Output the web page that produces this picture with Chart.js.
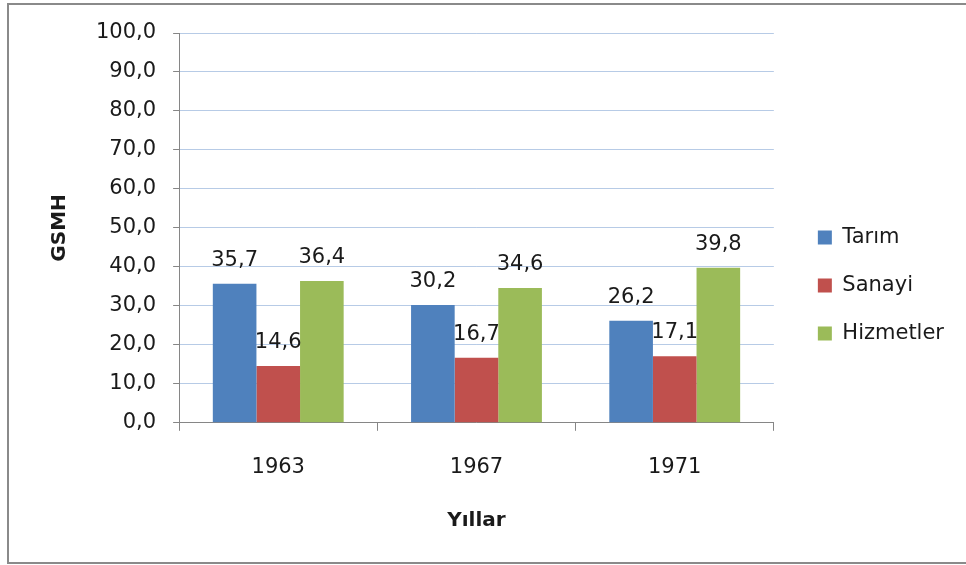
<!DOCTYPE html>
<html>
<head>
<meta charset="utf-8">
<script src="https://cdn.jsdelivr.net/npm/chart.js@4/dist/chart.umd.min.js"></script>
<style>
  html, body { margin: 0; padding: 0; background: #fff; overflow: hidden; }
  #wrap { position: relative; width: 966px; height: 565px; }
  #frame { position: absolute; left: 7px; top: 3px; width: 980px; height: 561px;
           border: 2px solid #8a8a8a; border-right: none; box-sizing: border-box; }
  canvas { position: absolute; left: 0; top: 0; }
</style>
</head>
<body>
<div id="wrap">
  <div id="frame"></div>
  <canvas id="c" width="966" height="565"></canvas>
</div>
<script>
const categories = ['1963', '1967', '1971'];
const seriesNames = ['Tarım', 'Sanayi', 'Hizmetler'];
const tarim = [35.7, 30.2, 26.2];
const sanayi = [14.6, 16.7, 17.1];
const hizmetler = [36.4, 34.6, 39.8];
const yTitle = 'GSMH';
const xTitle = 'Yıllar';

const colors = ['#4f81bd', '#c0504d', '#9bbb59'];
const FONT = "'DejaVu Sans', sans-serif";
const fmt = v => v.toFixed(1).replace('.', ',');

const labelPlugin = {
  id: 'barLabels',
  afterDatasetsDraw(chart) {
    const ctx = chart.ctx;
    ctx.save();
    ctx.font = '21px ' + FONT;
    ctx.fillStyle = '#1a1a1a';
    ctx.textAlign = 'center';
    ctx.textBaseline = 'alphabetic';
    chart.data.datasets.forEach((ds, i) => {
      const meta = chart.getDatasetMeta(i);
      meta.data.forEach((bar, j) => {
        ctx.fillText(fmt(ds.data[j]), bar.x, bar.y - 18);
      });
    });
    ctx.restore();
  }
};

new Chart(document.getElementById('c'), {
  type: 'bar',
  data: {
    labels: categories,
    datasets: [
      { label: seriesNames[0], data: tarim, backgroundColor: colors[0] },
      { label: seriesNames[1], data: sanayi, backgroundColor: colors[1] },
      { label: seriesNames[2], data: hizmetler, backgroundColor: colors[2] }
    ]
  },
  options: {
    responsive: false,
    animation: false,
    devicePixelRatio: 1,
    datasets: { bar: { barPercentage: 1.0, categoryPercentage: 0.66 } },
    layout: { padding: { top: 33, left: 48, bottom: 32, right: 12 } },
    plugins: {
      legend: {
        position: 'right',
        title: { display: true, text: '', padding: { top: 2, bottom: 2 }, font: { size: 1 } },
        labels: {
          boxWidth: 14, boxHeight: 14, padding: 27,
          color: '#1a1a1a',
          font: { family: FONT, size: 21 }
        }
      },
      tooltip: { enabled: false }
    },
    scales: {
      x: {
        grid: { drawOnChartArea: false, tickLength: 8, tickColor: '#868686', offset: true },
        border: { color: '#868686', width: 1 },
        ticks: { color: '#1a1a1a', padding: 24, font: { family: FONT, size: 21 } },
        title: { display: true, text: xTitle, color: '#1a1a1a', padding: { top: 5, bottom: 0 },
                 font: { family: FONT, size: 20, weight: 'bold' } }
      },
      y: {
        min: 0, max: 100,
        ticks: { stepSize: 10, color: '#1a1a1a', padding: 17, font: { family: FONT, size: 21 },
                 callback: v => fmt(v) },
        grid: { color: '#b7cbe6', tickLength: 6, tickColor: '#868686' },
        border: { color: '#868686', width: 1 },
        title: { display: true, text: yTitle, color: '#1a1a1a', padding: { top: 0, bottom: 7 },
                 font: { family: FONT, size: 20, weight: 'bold' } }
      },
      gap: {
        type: 'linear', position: 'right', display: false,
        afterFit(s) { s.width = 17; }
      }
    }
  },
  plugins: [labelPlugin]
});
</script>
</body>
</html>
